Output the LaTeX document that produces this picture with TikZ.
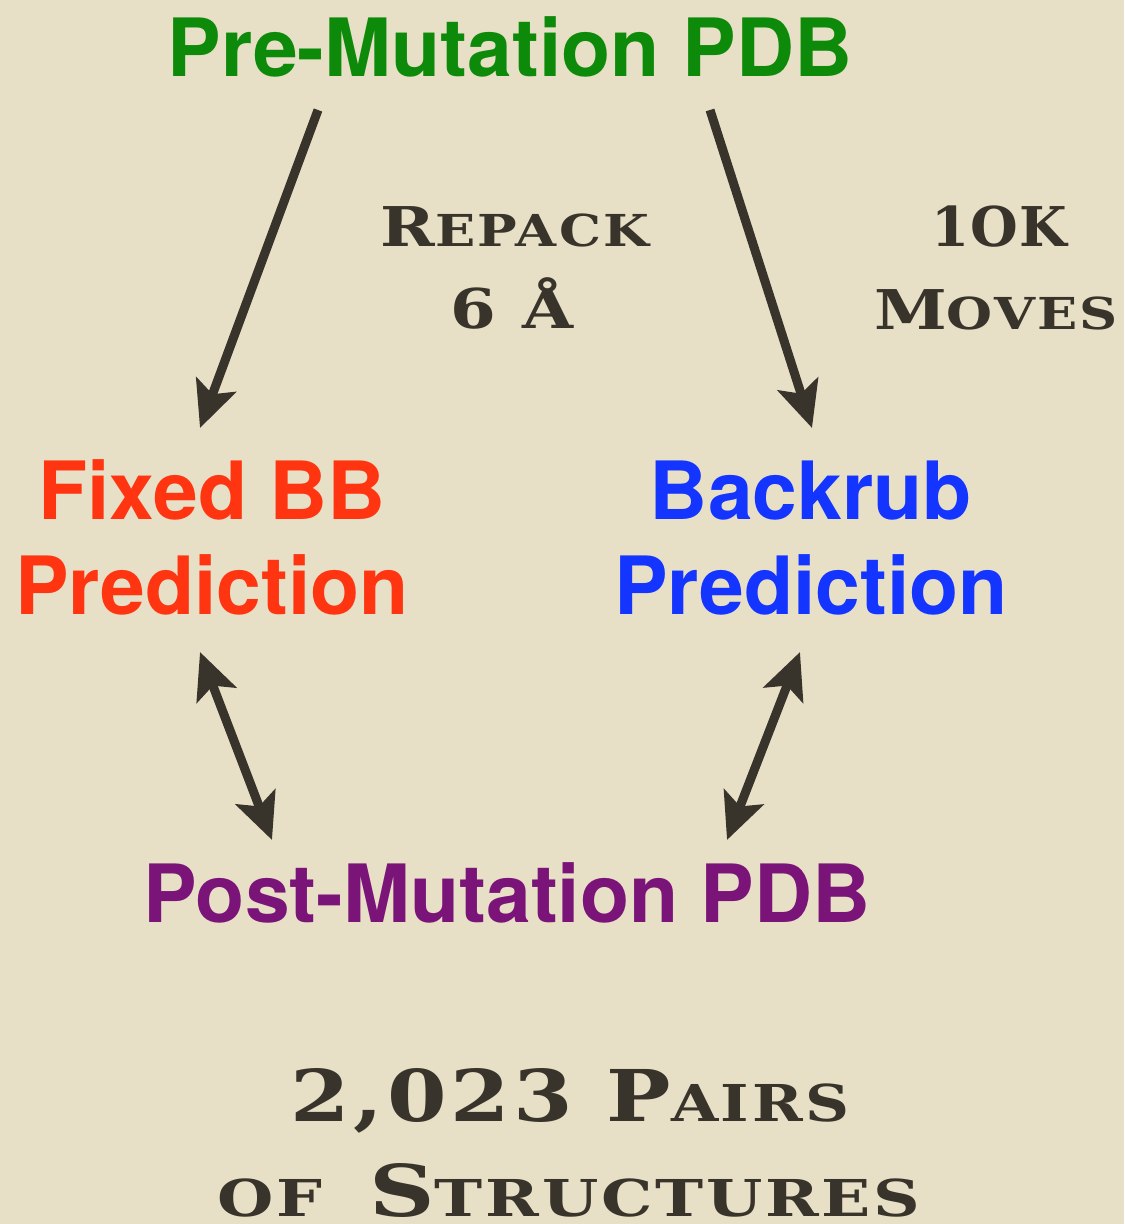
\documentclass[tikz,border=0pt]{standalone}
\usepackage{fontspec}
\usepackage{graphicx}
\setmainfont{TeX Gyre Heros}
\newfontfamily\scfont{DejaVu Serif}[FakeStretch=1.2,LetterSpace=5]
\newfontfamily\scfontn{DejaVu Serif}[LetterSpace=2]
\usetikzlibrary{arrows.meta}
\definecolor{bgc}{HTML}{E8E0C6}
\definecolor{ink}{HTML}{39342B}
\definecolor{cgreen}{HTML}{0E8A0A}
\definecolor{cred}{HTML}{FF3512}
\definecolor{cblue}{HTML}{1434FF}
\definecolor{cpurple}{HTML}{7A1478}
\newcommand\mysc[2]{{\fontsize{27.4}{30}\selectfont #1}{\fontsize{22}{26}\selectfont #2}}
\newcommand\mybsc[2]{{\fontsize{35.7}{40}\selectfont #1}{\fontsize{25.4}{30}\selectfont #2}}
\tikzset{
  head/.style={font=\bfseries\fontsize{40.2}{44}\selectfont, inner sep=0pt, anchor=base},
  lbl/.style={font=\scfont\bfseries, text=ink, inner sep=0pt, anchor=base},
  arr/.style={draw=ink, line width=4.5pt, -{Stealth[length=23pt,width=21pt,inset=5pt]}},
  darr/.style={draw=ink, line width=4.5pt, {Stealth[length=23pt,width=21pt,inset=5pt]}-{Stealth[length=23pt,width=21pt,inset=5pt]}}
}
\begin{document}
\begin{tikzpicture}[x=0.5pt,y=-0.5pt]
\fill[bgc] (0,0) rectangle (1124,1224);
\useasboundingbox (0,0) rectangle (1124,1224);
\node[head, text=cgreen] (pre) at (510,77) {Pre-Mutation PDB};
\node[lbl] (repack) at (515,247) {\mysc{R}{EPACK}};
\node[lbl] (ang) at (512,329) {\fontsize{27.4}{30}\selectfont 6 Å};
\node[lbl] (tenk) at (999,247) {\scfontn\bfseries\fontsize{27.4}{30}\selectfont 1OK};
\node[lbl] (moves) at (996,330) {\mysc{M}{OVES}};
\node[head, text=cred] (fixed) at (212,519) {Fixed BB};
\node[head, text=cred] (fixedp) at (212,614) {Prediction};
\node[head, text=cblue] (back) at (811,519) {Backrub};
\node[head, text=cblue] (backp) at (811,614) {Prediction};
\node[head, text=cpurple] (post) at (507,922) {Post-Mutation PDB};
\node[lbl] (pairs) at (570,1121) {\mybsc{2,023 P}{AIRS}};
\node[lbl] (struct) at (569,1216) {\scalebox{1.06}[1]{\mybsc{}{OF}\hspace{22pt}\mybsc{S}{TRUCTURES}}};
\coordinate (a1s) at (318,110);
\coordinate (a1e) at (200,428);
\coordinate (a2s) at (710,110);
\coordinate (a2e) at (812,428);
\coordinate (b1s) at (200,652);
\coordinate (b1e) at (272,840);
\coordinate (b2s) at (800,652);
\coordinate (b2e) at (727,840);
\draw[arr] (a1s) -- (a1e);
\draw[arr] (a2s) -- (a2e);
\draw[darr] (b1s) -- (b1e);
\draw[darr] (b2s) -- (b2e);
\end{tikzpicture}
\end{document}
